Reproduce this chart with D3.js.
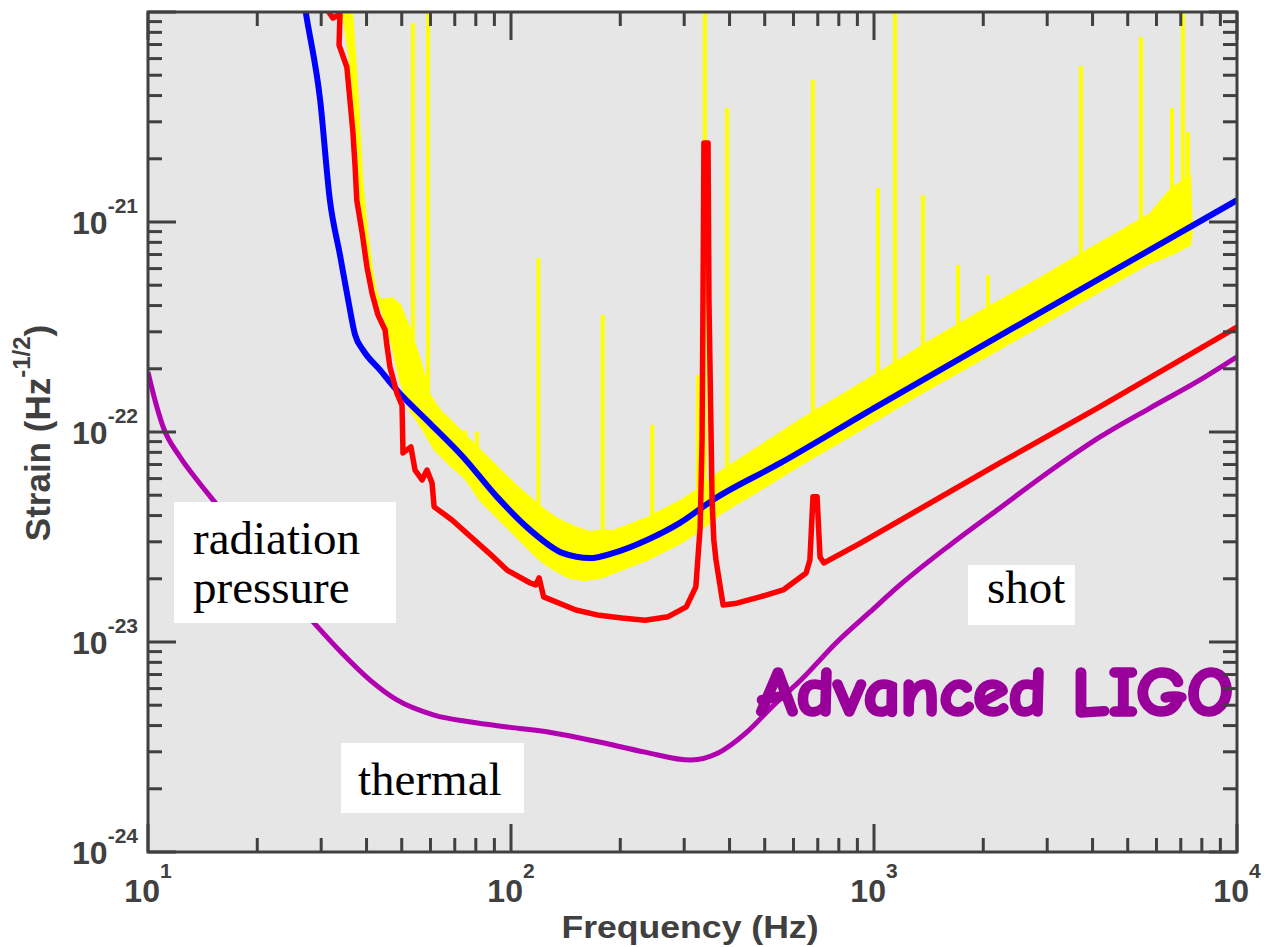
<!DOCTYPE html>
<html><head><meta charset="utf-8">
<script src="https://cdn.jsdelivr.net/npm/d3@7"></script>
<style>html,body{margin:0;padding:0;background:#fff;}svg{display:block;}</style>
</head><body>
<svg id="chart" width="1264" height="947"></svg>
<script>
// ---------- data (frequency in Hz, strain in 1/sqrt(Hz)) ----------
const blueFreq   = [26.7, 27.2, 29.8, 31.7, 33.8, 35.6, 37.2, 39.1, 43.6, 48.5, 59.8, 73.8, 91.5, 113, 139, 165, 191, 237, 292, 360, 551, 1000, 3000, 10000];
const blueStrain = [1.23e-20, 1.0e-20, 3.81e-21, 1.27e-21, 6.96e-22, 4.25e-22, 2.90e-22, 2.46e-22, 1.97e-22, 1.58e-22, 1.10e-22, 7.61e-23, 4.91e-23, 3.41e-23, 2.65e-23, 2.51e-23, 2.65e-23, 3.06e-23, 3.69e-23, 4.75e-23, 7.1e-23, 1.30e-22, 3.87e-22, 1.27e-21];

const redFreq   = [30.9, 32.3, 33.8, 33.6, 35.3, 36.0, 36.7, 37.2, 37.6, 38.9, 40.1, 41.4, 43.0, 45.0, 45.5, 46.4, 48.5, 50.1, 50.4, 53.0, 54.4, 56.9, 58.7, 60.6, 61.4, 68.8, 77.6, 87.0, 97.5, 113, 117, 119.5, 123, 151, 175, 202, 234, 271, 304, 323, 332, 336, 338, 340, 349, 351, 356, 358, 362, 367, 384, 419, 485, 562, 650, 666, 679, 697, 710, 728, 915, 2223, 4195, 10000];
const redStrain = [1.05e-20, 9.36e-21, 9.78e-21, 6.96e-21, 5.47e-21, 3.81e-21, 2.65e-21, 1.83e-21, 1.27e-21, 8.87e-22, 6.11e-22, 4.59e-22, 3.61e-22, 3.06e-22, 2.59e-22, 2.04e-22, 1.53e-22, 1.34e-22, 7.95e-23, 8.49e-23, 6.59e-23, 5.91e-23, 6.59e-23, 5.72e-23, 4.40e-23, 3.81e-23, 3.16e-23, 2.65e-23, 2.20e-23, 1.91e-23, 1.87e-23, 2.02e-23, 1.64e-23, 1.42e-23, 1.34e-23, 1.30e-23, 1.27e-23, 1.32e-23, 1.47e-23, 1.83e-23, 3.53e-23, 9.14e-23, 4.25e-22, 2.38e-21, 2.38e-21, 4.25e-22, 9.14e-23, 4.75e-23, 3.06e-23, 2.46e-23, 1.50e-23, 1.53e-23, 1.64e-23, 1.77e-23, 2.13e-23, 2.46e-23, 4.91e-23, 4.91e-23, 2.54e-23, 2.38e-23, 2.95e-23, 7.12e-23, 1.32e-22, 3.16e-22];

const purpleFreq   = [10, 10.45, 11.0, 12.25, 13.65, 15.1, 20.6, 28.7, 34.2, 40.9, 48.5, 61.4, 77.6, 97.5, 131, 175, 234, 313, 372, 444, 530, 629, 791, 975, 1179, 1620, 2223, 3054, 4195, 5758, 7910, 10000];
const purpleStrain = [1.93e-22, 1.42e-22, 1.06e-22, 7.61e-23, 5.91e-23, 4.75e-23, 2.38e-23, 1.23e-23, 8.87e-24, 6.59e-24, 5.30e-24, 4.49e-24, 4.16e-24, 3.94e-24, 3.69e-24, 3.34e-24, 2.99e-24, 2.74e-24, 2.96e-24, 3.69e-24, 5.02e-24, 6.59e-24, 1.0e-23, 1.39e-23, 1.87e-23, 2.90e-23, 4.35e-23, 6.52e-23, 9.47e-23, 1.30e-22, 1.77e-22, 2.28e-22];

// measured noise: upper and lower envelope of the yellow trace
const yellowUpFreq   = [34.4, 36.0, 36.9, 37.9, 38.9, 40.4, 41.9, 43.6, 47.0, 49.5, 52.7, 56.2, 59.8, 63.7, 70.1, 77.1, 84.8, 93.3, 103, 113, 124, 136, 150, 165, 182, 191, 237, 292, 332, 376, 485, 625, 915, 1339, 1959, 2867, 4195, 5758, 6538, 7422, 7516];
const yellowUpStrain = [1e-20, 5.91e-21, 2.74e-21, 1.42e-21, 9.67e-22, 6.59e-22, 5.02e-22, 4.25e-22, 4.35e-22, 4.02e-22, 3.06e-22, 2.20e-22, 1.50e-22, 1.27e-22, 1.08e-22, 9.14e-23, 7.77e-23, 6.59e-23, 5.59e-23, 4.85e-23, 4.25e-23, 3.81e-23, 3.53e-23, 3.34e-23, 3.41e-23, 3.38e-23, 3.90e-23, 4.69e-23, 5.41e-23, 6.45e-23, 8.58e-23, 1.14e-22, 1.69e-22, 2.54e-22, 3.73e-22, 5.41e-22, 7.95e-22, 1.09e-21, 1.42e-21, 1.67e-21, 9.0e-22];
const yellowLowFreq   = [36.5, 37.9, 38.9, 40.1, 41.4, 43.0, 45.0, 47.0, 49.5, 52.7, 56.2, 61.7, 67.9, 74.7, 82.1, 90.3, 99.4, 109, 120, 132, 145, 160, 176, 191, 237, 292, 332, 376, 485, 625, 915, 1339, 1959, 2867, 4195, 5758, 6538, 7422];
const yellowLowStrain = [1e-20, 3.81e-21, 1.58e-21, 9.14e-22, 5.91e-22, 4.25e-22, 3.41e-22, 2.59e-22, 1.77e-22, 1.27e-22, 1.08e-22, 8.22e-23, 6.96e-23, 6.04e-23, 4.75e-23, 4.02e-23, 3.41e-23, 2.90e-23, 2.46e-23, 2.20e-23, 2.02e-23, 1.97e-23, 2.02e-23, 2.13e-23, 2.46e-23, 2.95e-23, 3.41e-23, 4.07e-23, 5.30e-23, 6.96e-23, 1.02e-22, 1.52e-22, 2.20e-22, 3.20e-22, 4.69e-22, 6.38e-22, 6.96e-22, 7.77e-22];

// narrow lines in the measured spectrum
const spikeFreq = [53.7, 59.1, 74.7, 80.6, 119, 179, 245, 327, 342, 394, 679, 1026, 1143, 1365, 1704, 2061, 3717, 5439, 6621, 7100, 7328];
const spikePeak = [8.87e-21, 1.2e-20, 1.02e-22, 1.0e-22, 6.74e-22, 3.61e-22, 1.08e-22, 1.87e-22, 1.2e-20, 3.49e-21, 4.75e-21, 1.45e-21, 1.2e-20, 1.34e-21, 6.24e-22, 5.59e-22, 5.53e-21, 7.61e-21, 3.49e-21, 1.2e-20, 2.68e-21];

const xTickExponents = ["1", "2", "3", "4"];
const yTickExponents = ["-24", "-23", "-22", "-21"];
const xTitle = "Frequency (Hz)";
const yTitle = "Strain (Hz";
const yTitleSup = "-1/2";

// ---------- drawing ----------
const svg = d3.select("#chart");
const L = 148, R = 1237, T = 12, B = 852;
const x = d3.scaleLog().domain([10, 1e4]).range([L, R]);
const y = d3.scaleLog().domain([1e-24, 1e-20]).range([B, T]);
const ink = "#404040";

svg.append("rect").attr("x", L).attr("y", T).attr("width", R - L).attr("height", B - T).attr("fill", "#e6e6e6");
svg.append("defs").append("clipPath").attr("id", "clip")
  .append("rect").attr("x", L).attr("y", T).attr("width", R - L).attr("height", B - T);
const g = svg.append("g").attr("clip-path", "url(#clip)");

const zip = (f, s) => f.map((v, i) => [v, s[i]]);
const line = d3.line().x(d => x(d[0])).y(d => y(d[1]));
const smooth = d3.line().x(d => x(d[0])).y(d => y(d[1])).curve(d3.curveMonotoneX);

// yellow measured band
const up = zip(yellowUpFreq, yellowUpStrain), low = zip(yellowLowFreq, yellowLowStrain);
g.append("path").attr("d", line(up.concat(low.slice().reverse())) + "Z")
  .attr("fill", "#ffff00").attr("stroke", "#ffff00").attr("stroke-width", 2).attr("stroke-linejoin", "round");

function interpLog(arr, f) {
  const lf = Math.log10(f);
  for (let i = 0; i < arr.length - 1; i++) {
    const a = Math.log10(arr[i][0]), b = Math.log10(arr[i + 1][0]);
    if (lf >= a && lf <= b) {
      const t = (lf - a) / (b - a);
      return Math.pow(10, Math.log10(arr[i][1]) * (1 - t) + Math.log10(arr[i + 1][1]) * t);
    }
  }
  return arr[arr.length - 1][1];
}
const spikes = zip(spikeFreq, spikePeak);
g.selectAll("line.spike").data(spikes).enter().append("line")
  .attr("x1", d => x(d[0])).attr("x2", d => x(d[0]))
  .attr("y1", d => y(d[1])).attr("y2", d => y(interpLog(low, d[0])))
  .attr("stroke", "#ffff00").attr("stroke-width", 4);

g.append("path").attr("d", smooth(zip(purpleFreq, purpleStrain))).attr("fill", "none")
  .attr("stroke", "#b000b0").attr("stroke-width", 5).attr("stroke-linejoin", "round");
g.append("path").attr("d", smooth(zip(blueFreq, blueStrain))).attr("fill", "none")
  .attr("stroke", "#0000ff").attr("stroke-width", 6).attr("stroke-linejoin", "round");
g.append("path").attr("d", line(zip(redFreq, redStrain))).attr("fill", "none")
  .attr("stroke", "#ff0000").attr("stroke-width", 5.5).attr("stroke-linejoin", "round");

// ---------- annotations ----------
const serif = "'Liberation Serif','Times New Roman',Times,serif";
function box(x0, y0, w, h) {
  svg.append("rect").attr("x", x0).attr("y", y0).attr("width", w).attr("height", h).attr("fill", "#ffffff");
}
function label(tx, ty, s) {
  svg.append("text").attr("x", tx).attr("y", ty).attr("font-family", serif).attr("font-size", 47)
    .attr("fill", "#000").text(s);
}
box(174, 502, 222, 121); label(193, 554, "radiation"); label(193, 603, "pressure");
box(341, 743, 183, 70); label(358, 795, "thermal");
box(968, 565, 107, 60); label(987, 603, "shot");
svg.append("text").attr("x", 757).attr("y", 715)
  .attr("font-family", "'Comic Sans MS','Comic Neue','Lato',sans-serif").attr("font-weight", "bold")
  .attr("font-size", 68).attr("fill", "#990099")
  .attr("stroke", "#990099").attr("stroke-width", 3.5).attr("stroke-linejoin", "round")
  .attr("textLength", 476).attr("lengthAdjust", "spacingAndGlyphs").text("Advanced LIGO");

// ---------- axes ----------
const axisG = svg.append("g").attr("stroke", ink).attr("stroke-width", 3);
const isMajor = t => Math.abs(Math.log10(t) - Math.round(Math.log10(t))) < 1e-6;
x.ticks().forEach(t => {
  const len = isMajor(t) ? 28 : 14, px = x(t);
  axisG.append("line").attr("x1", px).attr("x2", px).attr("y1", B).attr("y2", B - len);
  axisG.append("line").attr("x1", px).attr("x2", px).attr("y1", T).attr("y2", T + len);
});
y.ticks().forEach(t => {
  const len = isMajor(t) ? 28 : 14, py = y(t);
  axisG.append("line").attr("x1", L).attr("x2", L + len).attr("y1", py).attr("y2", py);
  axisG.append("line").attr("x1", R).attr("x2", R - len).attr("y1", py).attr("y2", py);
});
svg.append("rect").attr("x", L).attr("y", T).attr("width", R - L).attr("height", B - T)
  .attr("fill", "none").attr("stroke", ink).attr("stroke-width", 3);

const sans = "'Liberation Sans',Arial,Helvetica,sans-serif";
xTickExponents.forEach(e => {
  const t = svg.append("text").attr("x", x(Math.pow(10, +e))).attr("y", 902)
    .attr("text-anchor", "middle").attr("font-family", sans).attr("font-weight", "bold")
    .attr("font-size", 32).attr("fill", ink);
  t.append("tspan").text("10");
  t.append("tspan").attr("dy", -24).attr("font-size", 21).text(e);
});
yTickExponents.forEach(e => {
  const t = svg.append("text").attr("x", 138).attr("y", y(Math.pow(10, +e)) + 12)
    .attr("text-anchor", "end").attr("font-family", sans).attr("font-weight", "bold")
    .attr("font-size", 32).attr("fill", ink);
  t.append("tspan").text("10");
  t.append("tspan").attr("dy", -21).attr("font-size", 21).text(e);
});
svg.append("text").attr("x", 690).attr("y", 938).attr("text-anchor", "middle")
  .attr("font-family", sans).attr("font-weight", "bold").attr("font-size", 32).attr("fill", ink)
  .attr("textLength", 257).attr("lengthAdjust", "spacingAndGlyphs").text(xTitle);
const yt = svg.append("text").attr("transform", "translate(50,433) rotate(-90)")
  .attr("text-anchor", "middle").attr("font-family", sans).attr("font-weight", "bold")
  .attr("font-size", 35).attr("fill", ink);
yt.append("tspan").text(yTitle);
yt.append("tspan").attr("dy", -20).attr("font-size", 24).text(yTitleSup);
yt.append("tspan").attr("dy", 20).text(")");
</script>
</body></html>
